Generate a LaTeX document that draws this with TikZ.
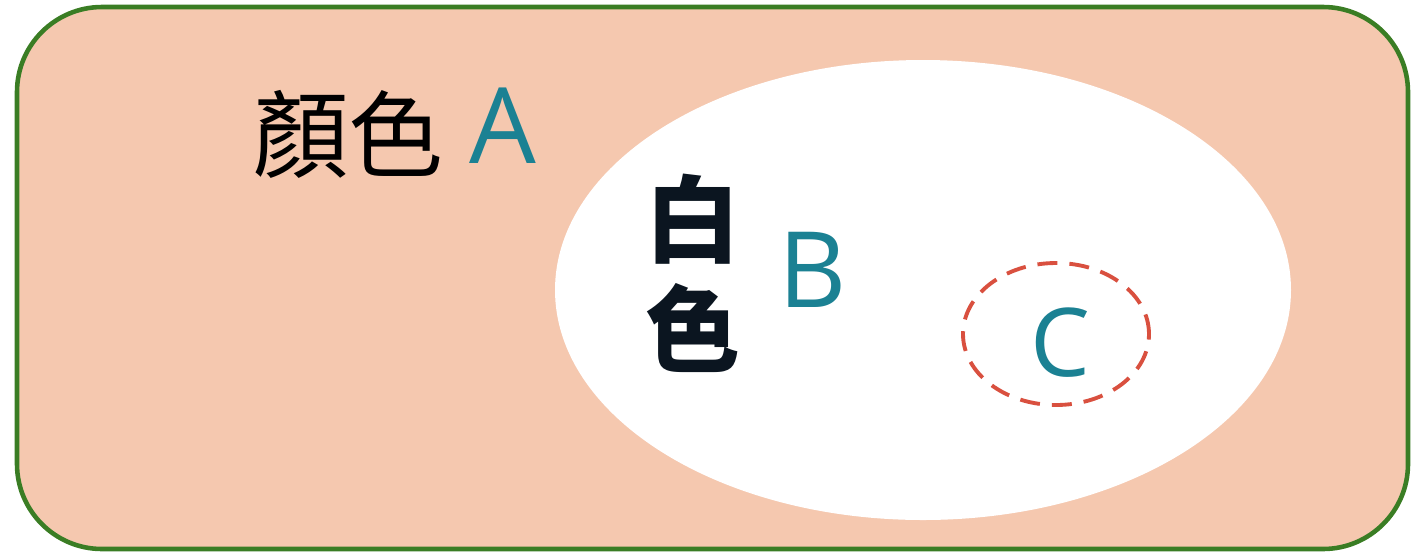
\documentclass[tikz,border=0pt]{standalone}
\usepackage{fontspec}
\setmainfont{Open Sans}
\newfontfamily\cjk{Noto Sans CJK TC}
\definecolor{setfill}{HTML}{F5C8AF}
\definecolor{setline}{HTML}{3A7D24}
\definecolor{lettercol}{HTML}{1B8193}
\definecolor{dashcol}{HTML}{D9503F}
\definecolor{inkcol}{HTML}{0B1520}
\begin{document}
\begin{tikzpicture}[
	letter/.style={text=lettercol, inner sep=0pt, font=\fontsize{30}{36}\selectfont},
	word/.style={inner sep=0pt, font=\cjk\fontsize{27}{31.3}\selectfont, align=center},
	]

		% Sets
		\useasboundingbox (0,0) rectangle (14.2,5.53);
		\draw[setline, fill=setfill, line width=1.3pt, rounded corners=0.85cm] (0.17,0.04) rectangle (14.08,5.46);
		\fill[white] (9.23,2.63) ellipse [x radius=3.68, y radius=2.30];
		\draw[dashcol, line width=1.1pt, dash pattern=on 0.2cm off 0.12cm] (10.56,2.19) ellipse [x radius=0.93, y radius=0.71];

		% Labels
		\node[word] (colour) at (3.48,4.19) {顏色};
		\node[letter] (A) at (5.03,4.27) {A};
		\node[word, text=inkcol, font=\cjk\bfseries\fontsize{27}{31.3}\selectfont] (white) at (6.93,2.80) {白\\色};
		\node[letter] (B) at (8.13,2.83) {B};
		\node[letter, font=\fontsize{27}{32}\selectfont] (C) at (10.60,2.10) {C};
	\end{tikzpicture}
\end{document}
